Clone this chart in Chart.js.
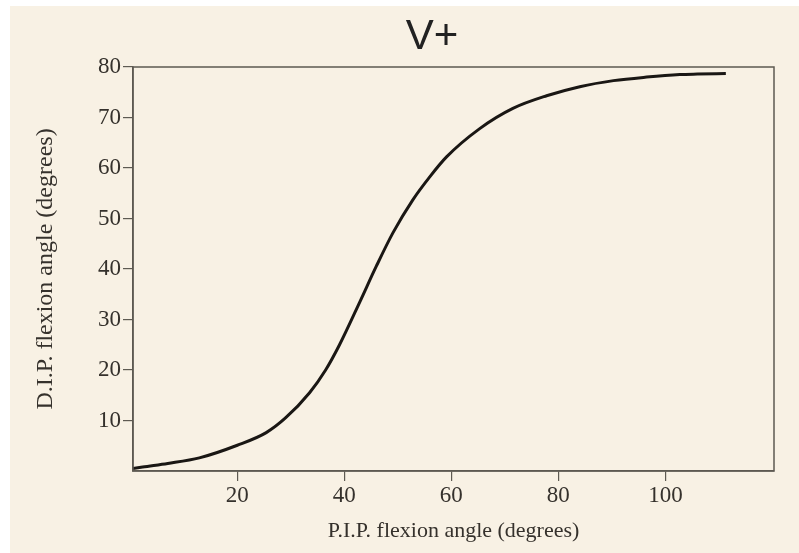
<!DOCTYPE html>
<html>
<head>
<meta charset="utf-8">
<script src="https://cdn.jsdelivr.net/npm/chart.js@4/dist/chart.umd.min.js"></script>
<style>
  html, body { margin: 0; padding: 0; background: #ffffff; width: 799px; height: 553px; overflow: hidden; }
  #c { position: absolute; left: 10px; top: 6px; background: #f8f1e4; }
</style>
</head>
<body>
<canvas id="c" width="789" height="547"></canvas>
<script>
// ---- data ----
const chartTitle = "V+";
const xAxisTitle = "P.I.P. flexion angle (degrees)";
const yAxisTitle = "D.I.P. flexion angle (degrees)";
const pipAngle = [0.5, 2.3, 7, 12.9, 20, 25.4, 29, 33.5, 36.5, 39.1, 42.9, 46, 49.1, 52.8, 56, 59.1, 65.3, 71.5, 77.8, 84, 90.3, 96.5, 102.7, 106, 111.3];
const dipAngle = [0.5, 0.8, 1.5, 2.6, 5.1, 7.6, 10.5, 15.5, 20, 25, 33.5, 40.6, 47.2, 53.7, 58.3, 62.2, 67.8, 71.8, 74.3, 76.1, 77.3, 78.0, 78.5, 78.6, 78.7];
const xTickValues = [20, 40, 60, 80, 100];
const yTickValues = [10, 20, 30, 40, 50, 60, 70, 80];

const axisColor = '#5e5a52';
const textColor = '#35312c';

const points = pipAngle.map((x, i) => ({ x: x, y: dipAngle[i] }));

const frameAndTitle = {
  id: 'frameAndTitle',
  afterDraw(chart) {
    const { ctx, chartArea } = chart;
    ctx.save();
    ctx.strokeStyle = axisColor;
    ctx.lineWidth = 1.5;
    ctx.strokeRect(chartArea.left, chartArea.top, chartArea.right - chartArea.left, chartArea.bottom - chartArea.top);
    ctx.fillStyle = '#222222';
    ctx.font = '42px "Liberation Sans", Arial, sans-serif';
    ctx.textAlign = 'center';
    ctx.textBaseline = 'alphabetic';
    ctx.fillText(chartTitle, 422, 43);
    ctx.restore();
  }
};

new Chart(document.getElementById('c'), {
  type: 'line',
  data: {
    datasets: [{
      data: points,
      borderColor: '#1a1714',
      borderWidth: 3,
      pointRadius: 0,
      fill: false,
      cubicInterpolationMode: 'monotone'
    }]
  },
  options: {
    responsive: false,
    animation: false,
    layout: { padding: { left: 0, right: 25, top: 61, bottom: 0 } },
    plugins: { legend: { display: false }, tooltip: { enabled: false }, title: { display: false } },
    scales: {
      x: {
        type: 'linear',
        min: 0.5,
        max: 120.3,
        afterBuildTicks: (scale) => { scale.ticks = xTickValues.map(v => ({ value: v })); },
        afterFit: (scale) => { scale.height = 82; },
        grid: { drawOnChartArea: false, drawTicks: true, tickLength: 10, color: axisColor, lineWidth: 1.2 },
        border: { display: true, color: axisColor, width: 1.5 },
        ticks: { color: textColor, font: { family: '"Liberation Serif", "Times New Roman", serif', size: 23 }, padding: 1, maxRotation: 0 },
        title: { display: true, text: xAxisTitle, color: textColor, font: { family: '"Liberation Serif", "Times New Roman", serif', size: 22 }, padding: { top: 4, bottom: 9 } }
      },
      y: {
        type: 'linear',
        min: 0,
        max: 80,
        afterBuildTicks: (scale) => { scale.ticks = yTickValues.map(v => ({ value: v })); },
        afterFit: (scale) => { scale.width = 123; },
        grid: { drawOnChartArea: false, drawTicks: true, tickLength: 10, color: axisColor, lineWidth: 1.2 },
        border: { display: true, color: axisColor, width: 1.5 },
        ticks: { color: textColor, font: { family: '"Liberation Serif", "Times New Roman", serif', size: 23 }, padding: 2 },
        title: { display: true, text: yAxisTitle, color: textColor, font: { family: '"Liberation Serif", "Times New Roman", serif', size: 24 }, padding: { top: 21, bottom: 0 } }
      }
    }
  },
  plugins: [frameAndTitle]
});
</script>
</body>
</html>
